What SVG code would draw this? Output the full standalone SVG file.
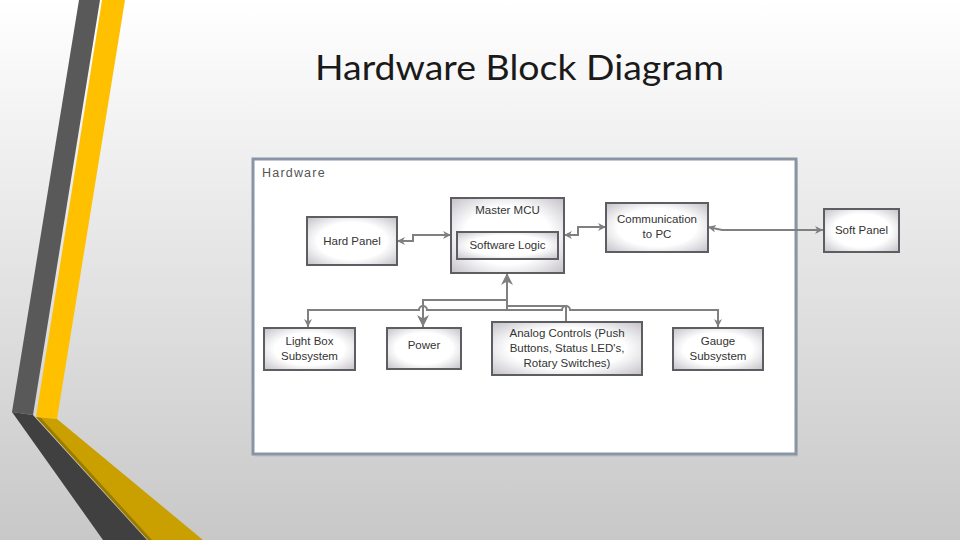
<svg xmlns="http://www.w3.org/2000/svg" width="960" height="540" viewBox="0 0 960 540">
<defs>
<linearGradient id="bg" x1="0" y1="0" x2="0" y2="1">
<stop offset="0" stop-color="#ffffff"/>
<stop offset="1" stop-color="#c8c8c8"/>
</linearGradient>
<radialGradient id="box" cx="50%" cy="50%" r="70%">
<stop offset="0.55" stop-color="#ffffff"/>
<stop offset="1" stop-color="#c4c1c8"/>
</radialGradient>
<marker id="arr" viewBox="0 0 10 10" refX="10" refY="5" markerWidth="8" markerHeight="8" markerUnits="userSpaceOnUse" orient="auto-start-reverse">
<path d="M0,0 L10,5 L0,10 L3,5 Z" fill="#7f7f7f"/>
</marker>
<marker id="arrBig" viewBox="0 0 10 10" refX="10" refY="5" markerWidth="12" markerHeight="12" markerUnits="userSpaceOnUse" orient="auto-start-reverse">
<path d="M0,0 L10,5 L0,10 L3,5 Z" fill="#7f7f7f"/>
</marker>
<style>
.box{fill:url(#box);stroke:#5e5e62;stroke-width:2}
.t{font-family:"Liberation Sans",Arial,sans-serif;font-size:11.5px;fill:#333;text-anchor:middle}
.c{fill:none;stroke:#808080;stroke-width:2}
</style>
</defs>
<rect width="960" height="540" fill="url(#bg)"/>
<g id="decoration">
<polygon points="79,0 100,0 33,415 12,412" fill="#595959"/>
<polygon points="102,0 125,0 57,419 36,417" fill="#ffc000"/>
<polygon points="12,412 33,415 147,540 103,540" fill="#404040"/>
<polygon points="36,417 57,419 203,540 148,540" fill="#c9a000"/>
<polygon points="36,417 41,418 152,540 148,540" fill="#9c7c00"/>
</g>
<text x="519.5" y="80" font-family="Lato,'Open Sans',sans-serif" font-size="34" fill="#1a1a1a" text-anchor="middle" textLength="409" lengthAdjust="spacingAndGlyphs">Hardware Block Diagram</text>
<g id="hardware-frame">
<rect x="255" y="161" width="543" height="296" fill="#b9c0ca" opacity="0.6"/>
<rect x="253" y="159" width="543" height="295" fill="#ffffff" stroke="#8a95a4" stroke-width="3"/>
<text x="262" y="177" font-family="'Liberation Sans',Arial,sans-serif" font-size="12.5" letter-spacing="1.2" fill="#555">Hardware</text>
</g>
<g id="connectors">
<path class="c" d="M397,241 H413 V235 H451" marker-start="url(#arr)" marker-end="url(#arr)"/>
<path class="c" d="M564,235 H578 V227 H606" marker-start="url(#arr)" marker-end="url(#arr)"/>
<path class="c" d="M708,227 L722,230 H823" marker-start="url(#arr)" marker-end="url(#arr)"/>
<path class="c" d="M507,273 V310" marker-start="url(#arrBig)"/>
<path class="c" d="M507,300 H423 V327" marker-end="url(#arrBig)"/>
<path class="c" d="M507,306 H566 V322"/>
<path class="c" d="M308,327 V310 H419 A4,4 0 0 1 427,310 H562 A4,4 0 0 1 570,310 H718 V327" marker-start="url(#arr)" marker-end="url(#arr)"/>
</g>
<g id="hard-panel">
<rect class="box" x="307" y="217" width="90" height="48"/>
<text class="t" x="352" y="245">Hard Panel</text>
</g>
<g id="master-mcu">
<rect class="box" x="451" y="198" width="113" height="75"/>
<text class="t" x="507.5" y="214">Master MCU</text>
</g>
<g id="software-logic">
<rect class="box" x="457" y="232" width="101" height="27"/>
<text class="t" x="507.5" y="249">Software Logic</text>
</g>
<g id="communication">
<rect class="box" x="606" y="203" width="102" height="49"/>
<text class="t" x="657" y="223">Communication</text>
<text class="t" x="657" y="238">to PC</text>
</g>
<g id="soft-panel">
<rect class="box" x="824" y="209" width="75" height="43"/>
<text class="t" x="861.5" y="234">Soft Panel</text>
</g>
<g id="light-box">
<rect class="box" x="264" y="328" width="91" height="42"/>
<text class="t" x="309.5" y="345">Light Box</text>
<text class="t" x="309.5" y="360">Subsystem</text>
</g>
<g id="power">
<rect class="box" x="387" y="328" width="74" height="41"/>
<text class="t" x="424" y="349">Power</text>
</g>
<g id="analog-controls">
<rect class="box" x="492" y="322" width="150" height="53"/>
<text class="t" x="567" y="337">Analog Controls (Push</text>
<text class="t" x="567" y="352">Buttons, Status LED's,</text>
<text class="t" x="567" y="367">Rotary Switches)</text>
</g>
<g id="gauge">
<rect class="box" x="673" y="328" width="90" height="42"/>
<text class="t" x="718" y="345">Gauge</text>
<text class="t" x="718" y="360">Subsystem</text>
</g>
</svg>
